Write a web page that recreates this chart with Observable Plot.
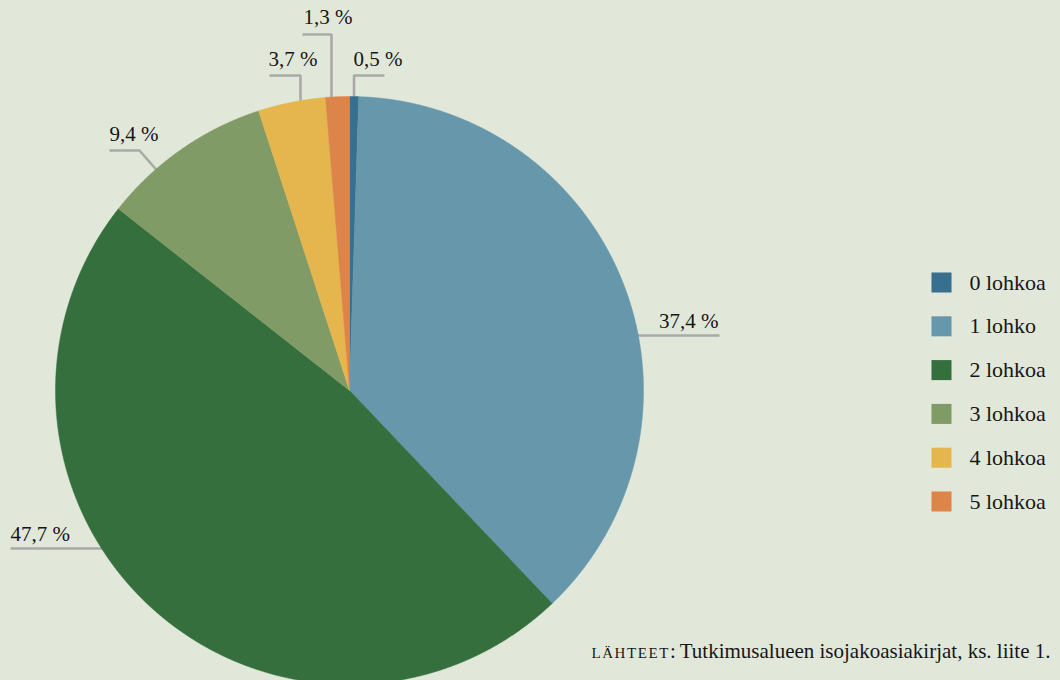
<!DOCTYPE html>
<html><head><meta charset="utf-8">
<script src="https://cdn.jsdelivr.net/npm/d3@7"></script>
<script src="https://cdn.jsdelivr.net/npm/@observablehq/plot@0.6"></script>
<style>
html,body{margin:0;padding:0;background:#e2e8d9;overflow:hidden;}
#chart svg{display:block;}
#chart svg text{font-family:"Liberation Serif","DejaVu Serif",serif;}
</style></head><body><div id="chart"></div>
<script>
// ---- data ----
const categories = ["0 lohkoa", "1 lohko", "2 lohkoa", "3 lohkoa", "4 lohkoa", "5 lohkoa"];
const shares = [0.5, 37.4, 47.7, 9.4, 3.7, 1.3];
const colors = ["#36708e", "#6697ab", "#346f3d", "#819b66", "#e5b64e", "#dc844a"];
const caption = "Tutkimusalueen isojakoasiakirjat, ks. liite 1.";
const captionLead = "lähteet:";

// ---- layout (pixel units of the 1060x680 frame) ----
const W = 1060, H = 680;
const CX = 349, CY = 390, R = 294;
const FONT = "Liberation Serif";
const INK = "#161616";
const fmt = v => d3.format(".1f")(v).replace(".", ",") + " %";

// slice polygons from d3.pie
const arcs = d3.pie().sort(null).value(d => d)(shares);
const slicePts = arcs.flatMap((a, i) => {
  const cat = categories[i];
  const n = Math.max(2, Math.ceil((a.endAngle - a.startAngle) / 0.003));
  const pts = [{cat, x: CX, y: CY}];
  for (let k = 0; k <= n; k++) {
    const t = a.startAngle + (a.endAngle - a.startAngle) * k / n;
    pts.push({cat, x: CX + R * Math.sin(t), y: CY - R * Math.cos(t)});
  }
  pts.push({cat, x: CX, y: CY});
  return pts;
});

// label leaders (annotation layout per category)
const leaderLayout = [
  {i: 0, pts: [[353.5, 110], [353.5, 75], [384, 75]], tx: 353, ty: 65, anchor: "start"},
  {i: 5, pts: [[331, 110], [331, 34], [302, 34]], tx: 303, ty: 23, anchor: "start"},
  {i: 4, pts: [[300, 110], [300, 75], [269, 75]], tx: 268, ty: 65, anchor: "start"},
  {i: 3, pts: [[160, 174], [139, 150], [109, 150]], tx: 109, ty: 140, anchor: "start"},
  {i: 1, pts: [[630, 335], [719, 335]], tx: 718, ty: 327, anchor: "end"},
  {i: 2, pts: [[108, 548], [10, 548]], tx: 10, ty: 540, anchor: "start"}
];
const leaderPts = leaderLayout.flatMap(l => l.pts.map(([x, y]) => ({id: l.i, x, y})));
const labelData = leaderLayout.map(l => ({text: fmt(shares[l.i]), x: l.tx, y: l.ty, anchor: l.anchor}));

const legendData = categories.map((c, i) => ({cat: c, y: 282 + i * 43.8}));

const plot = Plot.plot({
  width: W, height: H,
  margin: 0,
  style: {background: "transparent", fontFamily: FONT, color: INK},
  x: {domain: [0, W], range: [0, W], axis: null},
  y: {domain: [0, H], range: [0, H], axis: null},
  color: {domain: categories, range: colors},
  marks: [
    Plot.line(leaderPts, {x: "x", y: "y", z: "id", stroke: "#a9a9a9", strokeWidth: 2.6, strokeLinejoin: "miter", strokeLinecap: "butt"}),
    Plot.line(slicePts, {x: "x", y: "y", z: "cat", fill: "cat", stroke: "cat", strokeWidth: 0.5, curve: "linear"}),
    Plot.text(labelData.filter(d => d.anchor === "start"), {x: "x", y: "y", text: "text", textAnchor: "start", lineAnchor: "bottom", fontSize: 21, fontFamily: FONT, fill: INK}),
    Plot.text(labelData.filter(d => d.anchor === "end"), {x: "x", y: "y", text: "text", textAnchor: "end", lineAnchor: "bottom", fontSize: 21, fontFamily: FONT, fill: INK}),
    Plot.dot(legendData, {x: () => 941, y: "y", fill: "cat", symbol: "square", r: 11.3, stroke: null}),
    Plot.text(legendData, {x: () => 969, y: "y", text: "cat", textAnchor: "start", lineAnchor: "middle", fontSize: 22, fontFamily: FONT, fill: INK}),
    Plot.text([captionLead], {x: () => 677, y: () => 657, text: d => d, textAnchor: "end", lineAnchor: "bottom", fontSize: 21, fontFamily: FONT, fontVariant: "small-caps", fill: INK}),
    Plot.text([caption], {x: () => 1050, y: () => 657, text: d => d, textAnchor: "end", lineAnchor: "bottom", fontSize: 21, fontFamily: FONT, fill: INK})
  ]
});
d3.select(plot).selectAll("text").filter(function() { return this.textContent === captionLead; }).style("letter-spacing", "1.6px");
document.getElementById("chart").appendChild(plot);
</script>
</body></html>
